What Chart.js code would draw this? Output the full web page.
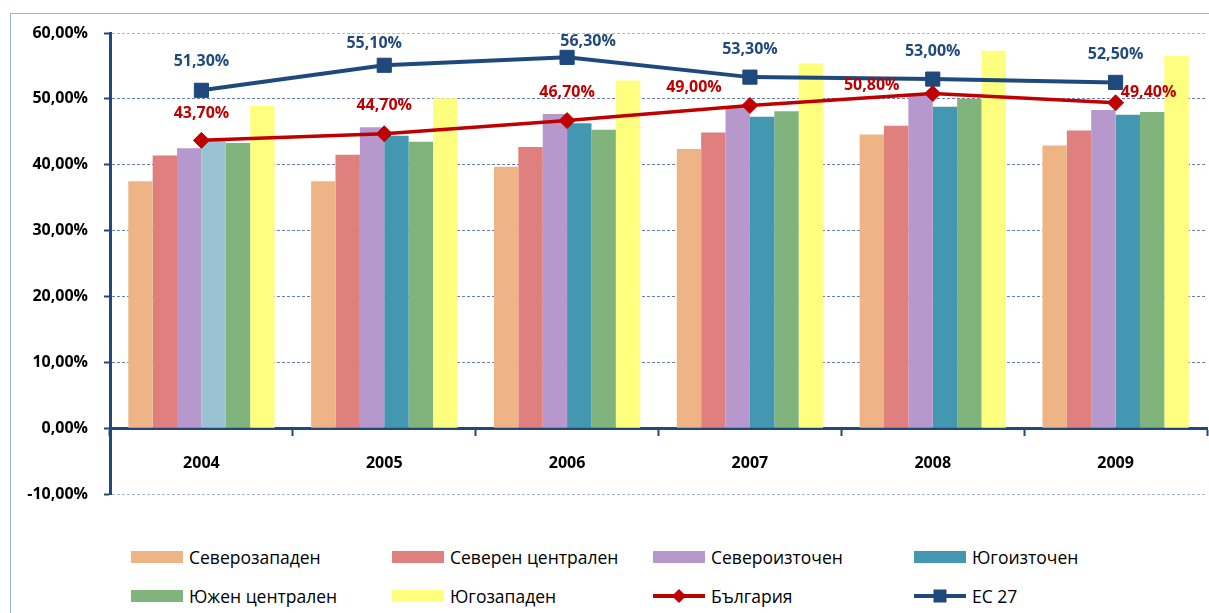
<!DOCTYPE html>
<html>
<head>
<meta charset="utf-8">
<script src="https://cdn.jsdelivr.net/npm/chart.js@4.4.1/dist/chart.umd.min.js"></script>
<style>
  body { margin: 0; background: #fff; width: 1209px; height: 613px; overflow: hidden; position: relative; font-family: "Open Sans", sans-serif; }
  #frame { position: absolute; left: 10px; top: 13px; width: 1300px; height: 700px; border-left: 1px solid #95B3D7; border-top: 1px solid #95B3D7; }
  #wrap { position: absolute; left: 0; top: 0; width: 1218px; height: 520px; }
  .item { position: absolute; display: flex; align-items: center; font-size: 17.5px; color: #000; height: 22px; }
  .box { width: 52px; height: 12px; margin-right: 6px; position: relative; }
  .mk { position: absolute; left: 50%; top: 50%; }
</style>
</head>
<body>
<div id="frame"></div>
<div id="wrap"><canvas id="chart" width="1218" height="520"></canvas></div>
<div id="legend"></div>
<script>
// years on the x axis
const years = ['2004', '2005', '2006', '2007', '2008', '2009'];

// regional bars (%)
const severozapaden = [37.5, 37.5, 39.7, 42.4, 44.6, 42.9];
const severenCentralen = [41.4, 41.5, 42.7, 44.9, 45.9, 45.2];
const severoiztochen = [42.5, 45.7, 47.7, 48.7, 50.5, 48.3];
const iugoiztochen = [43.6, 44.4, 46.3, 47.3, 48.8, 47.6];
const iuzhenCentralen = [43.3, 43.5, 45.3, 48.1, 50.0, 48.0];
const iugozapaden = [48.9, 50.1, 52.8, 55.4, 57.3, 56.5];

// lines (%)
const bulgaria = [43.7, 44.7, 46.7, 49.0, 50.8, 49.4];
const ec27 = [51.3, 55.1, 56.3, 53.3, 53.0, 52.5];

// y axis ticks
const yMin = -10, yMax = 60, yStep = 10;

// label offsets from the point, px
const bgLabelOffsets = [[0, -27], [0, -28], [0, -28], [-56, -18], [-61, -8], [33, -10]];
const ecLabelOffsets = [[0, -29], [-10, -22], [21, -16], [0, -28], [0, -28], [0, -28]];

const fmt = v => v.toFixed(2).replace('.', ',') + '%';

const pointLabels = {
  id: 'pointLabels',
  afterDatasetsDraw(chart) {
    const ctx = chart.ctx;
    ctx.save();
    ctx.font = 'bold 16px "Open Sans"';
    ctx.textAlign = 'center';
    ctx.textBaseline = 'middle';
    chart.data.datasets.forEach((ds, i) => {
      if (!ds.labelOffsets) return;
      ctx.fillStyle = ds.borderColor;
      chart.getDatasetMeta(i).data.forEach((pt, j) => {
        const [dx, dy] = ds.labelOffsets[j];
        ctx.fillText(fmt(ds.data[j]), pt.x + dx, pt.y + dy);
      });
    });
    ctx.restore();
  }
};

const navy = '#1F497D';
const red = '#C00000';

const datasets = [
  { label: 'Северозападен', data: severozapaden, backgroundColor: '#EFB486' },
  { label: 'Северен централен', data: severenCentralen, backgroundColor: '#DF7F7E' },
  { label: 'Североизточен', data: severoiztochen, backgroundColor: '#B698CD' },
  { label: 'Югоизточен', data: iugoiztochen, backgroundColor: ['#9AC2D1', '#4397B0', '#4397B0', '#4397B0', '#4397B0', '#4397B0'], legendColor: '#4397B0' },
  { label: 'Южен централен', data: iuzhenCentralen, backgroundColor: '#81B47D' },
  { label: 'Югозападен', data: iugozapaden, backgroundColor: '#FFFF7F' },
  {
    type: 'line', label: 'България', data: bulgaria, borderColor: red, backgroundColor: red,
    borderWidth: 3.5, pointStyle: 'rectRot', pointRadius: 8, pointBorderWidth: 1, order: 0,
    labelOffsets: bgLabelOffsets
  },
  {
    type: 'line', label: 'ЕС 27', data: ec27, borderColor: navy, backgroundColor: navy,
    borderWidth: 4, pointStyle: 'rect', pointRadius: 10, pointBorderWidth: 1, order: 0,
    labelOffsets: ecLabelOffsets
  }
];
datasets.forEach(d => {
  if (!d.type) {
    d.order = 1;
    d.categoryPercentage = 0.8;
    d.barPercentage = 1.0;
    d.borderWidth = 0;
  }
});

const chart = new Chart(document.getElementById('chart'), {
  type: 'bar',
  data: { labels: years, datasets },
  options: {
    responsive: false,
    animation: false,
    layout: { padding: { left: 10, top: 33, right: 4, bottom: 26 } },
    plugins: { legend: { display: false }, tooltip: { enabled: false } },
    scales: {
      x: {
        position: { y: 0 },
        grid: { drawOnChartArea: false, offset: true, tickLength: 6, tickColor: navy, tickWidth: 2, tickBorderDash: [] },
        border: { color: navy, width: 3 },
        ticks: { color: '#000', font: { family: 'Open Sans', size: 16, weight: 'bold' }, padding: 20 }
      },
      y: {
        min: yMin, max: yMax,
        afterFit: s => { s.width = 100; },
        grid: {
          color: ctx => (ctx.tick && (ctx.tick.value === yMax || ctx.tick.value === yMin)) ? '#A9B9D9' : '#6580B8',
          lineWidth: 1, tickLength: 6, tickColor: navy, tickWidth: 2, tickBorderDash: []
        },
        border: { color: navy, width: 3, dash: [3, 2] },
        ticks: {
          stepSize: yStep, padding: 16, color: '#000',
          font: { family: 'Open Sans', size: 16, weight: 'bold' },
          callback: v => fmt(v)
        }
      }
    }
  },
  plugins: [pointLabels]
});

// legend, 4 columns x 2 rows
const legend = document.getElementById('legend');
const colX = [131, 392, 653, 914];
const rowY = [557, 596];
chart.data.datasets.forEach((ds, i) => {
  const item = document.createElement('div');
  item.className = 'item';
  item.style.left = colX[i % 4] + 'px';
  item.style.top = (rowY[Math.floor(i / 4)] - 11) + 'px';
  const box = document.createElement('div');
  box.className = 'box';
  if (ds.type === 'line') {
    box.style.height = '4px';
    box.style.margin = '4px 6px 4px 0';
    box.style.background = ds.borderColor;
    const mk = document.createElement('div');
    mk.className = 'mk';
    mk.style.background = ds.borderColor;
    if (ds.pointStyle === 'rectRot') {
      mk.style.width = '10px'; mk.style.height = '10px';
      mk.style.transform = 'translate(-50%,-50%) rotate(45deg)';
    } else {
      mk.style.width = '13px'; mk.style.height = '13px';
      mk.style.transform = 'translate(-50%,-50%)';
    }
    box.appendChild(mk);
  } else {
    box.style.background = ds.legendColor || ds.backgroundColor;
  }
  item.appendChild(box);
  const txt = document.createElement('span');
  txt.textContent = ds.label;
  item.appendChild(txt);
  legend.appendChild(item);
});
</script>
</body>
</html>
